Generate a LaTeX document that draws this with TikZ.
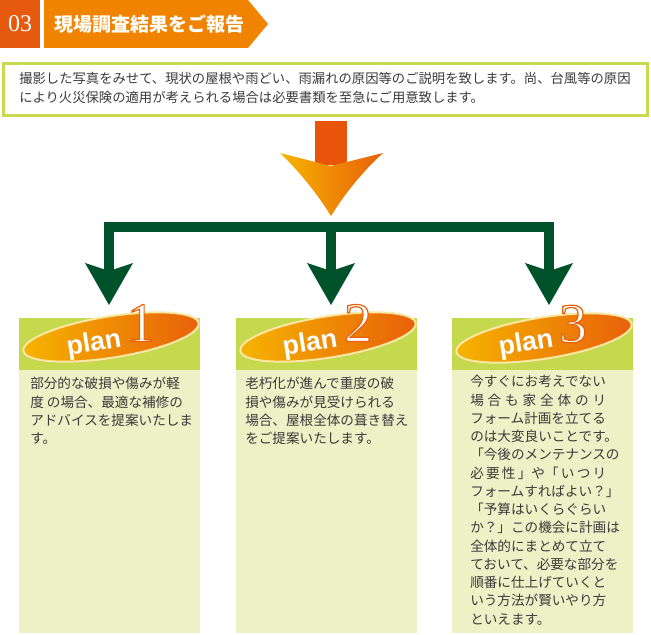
\documentclass[tikz,border=0pt]{standalone}
\usepackage{fontspec}
\setmainfont{Noto Sans CJK JP}
\newfontfamily\planfont{Liberation Sans}
\newfontfamily\numfont{Liberation Serif}
\usetikzlibrary{arrows.meta,shapes.geometric}

\definecolor{hdrdark}{HTML}{E65A10}
\definecolor{hdrorange}{HTML}{F08300}
\definecolor{framegreen}{HTML}{C8DA4E}
\definecolor{headgreen}{HTML}{C4D94E}
\definecolor{bodygreen}{HTML}{EDF1C6}
\definecolor{forkgreen}{HTML}{00522B}
\definecolor{shaftred}{HTML}{E8550A}
\definecolor{tipyellow}{HTML}{F6B400}
\definecolor{tiporange}{HTML}{E8600A}
\definecolor{rimcream}{HTML}{FCE6A4}
\definecolor{txtgray}{HTML}{3A3A3A}

\newcommand{\spreadline}[1]{\hbox to 10em{#1}}
% white digit with a thin orange edge (fill + stroke text mode)
\newcommand{\edgedigit}[1]{\special{pdf:literal direct 0.91 0.376 0.039 RG 0.9 w 2 Tr}#1\special{pdf:literal direct 0 Tr}}

\begin{document}
\begin{tikzpicture}[x=0.75pt, y=-0.75pt,
    colhead/.style={fill=headgreen, minimum width=135.75pt, minimum height=39pt, anchor=north west, inner sep=0},
    colbody/.style={fill=bodygreen, minimum width=135.75pt, minimum height=197.25pt, anchor=north west, inner sep=0},
    planoval/.style={ellipse, draw=rimcream, line width=1.5pt, left color=tipyellow, right color=tiporange, minimum width=133pt, minimum height=31pt, rotate=9, inner sep=0},
    planword/.style={text=white, font=\planfont\bfseries\fontsize{20}{20}\selectfont, rotate=9, inner sep=0},
    plannum/.style={text=white, font=\numfont\fontsize{42}{42}\selectfont, inner sep=0},
    plantext/.style={text=txtgray, font=\fontsize{10.2}{13.7}\selectfont, align=left, anchor=north west, inner sep=0},
    branch/.style={draw=forkgreen, line width=7.5pt, -{Stealth[length=31.5pt, width=36pt, inset=6pt, line width=0pt]}}
]
\useasboundingbox (0,0) rectangle (651,635);

% header
\node[fill=hdrdark, minimum width=30pt, minimum height=36pt, inner sep=0, text=white, font=\numfont\fontsize{18}{18}\selectfont] (secnum) at (20,24) {03};
\fill[hdrorange] (44,0) -- (248,0) -- (268,24) -- (248,48) -- (44,48) -- cycle;
\node[text=white, font=\bfseries\fontsize{14.25}{14.25}\selectfont, inner sep=0] (title) at (150,24) {現場調査結果をご報告};

% intro
\node[draw=framegreen, line width=2.25pt, minimum width=483pt, minimum height=39pt, inner sep=0] (intro) at (325,90) {};
\node[text=txtgray, font=\fontsize{10}{14.25}\selectfont, align=left, anchor=west, inner sep=0] (introtext) at (19,88) {撮影した写真をみせて、現状の屋根や雨どい、雨漏れの原因等のご説明を致します。尚、台風等の原因\\により火災保険の適用が考えられる場合は必要書類を至急にご用意致します。};

% big arrow
\node[fill=shaftred, minimum width=24pt, minimum height=33pt, inner sep=0] (shaft) at (331,143) {};
\shade[left color=tipyellow, right color=tiporange] (280,153) .. controls (300,172) and (318,195) .. (331,216) .. controls (344,195) and (362,172) .. (383,153) -- (331,166) -- cycle;

% fork
\coordinate (fork) at (331,227);
\coordinate (tip1) at (109,305);
\coordinate (tip2) at (331,305);
\coordinate (tip3) at (549,305);
\draw[branch] (fork) -| (tip1);
\draw[branch] (fork) -| (tip3);
\draw[branch] (fork) -- (tip2);

% columns
\node[colhead] (head1) at (19,318) {};
\node[colbody] (body1) at (19,370) {};
\node[colhead] (head2) at (236,318) {};
\node[colbody] (body2) at (236,370) {};
\node[colhead] (head3) at (452,318) {};
\node[colbody] (body3) at (452,370) {};

\node[planoval] (oval1) at (111,337) {};
\node[planoval] (oval2) at (328,337) {};
\node[planoval] (oval3) at (544,338) {};
\node[planword] (plan1) at (94,344) {plan};
\node[planword] (plan2) at (310,344) {plan};
\node[planword] (plan3) at (526,344) {plan};
\node[plannum] (num1) at (141,323) {\edgedigit{1}};
\node[plannum] (num2) at (358,323) {\edgedigit{2}};
\node[plannum] (num3) at (573,324) {\edgedigit{3}};

\node[plantext] (text1) at (30,377) {部分的な破損や傷みが軽\\度 の場合、最適な補修の\\アドバイスを提案いたしま\\す。};
\node[plantext] (text2) at (245,377) {老朽化が進んで重度の破\\損や傷みが見受けられる\\場合、屋根全体の葺き替え\\をご提案いたします。};
\node[plantext] (text3) at (470,375) {今すぐにお考えでない\\
\spreadline{場\hfill 合\hfill も\hfill 家\hfill 全\hfill 体\hfill の\hfill リ}\\
フォーム計画を立てる\\のは大変良いことです。\\「今後のメンテナンスの\\
\spreadline{必\hfill 要\hfill 性\hfill 」や「\hfill い\hfill つ\hfill リ}\\
フォームすればよい？」\\「予算はいくらぐらい\\か？」この機会に計画は\\全体的にまとめて立て\\ておいて、必要な部分を\\順番に仕上げていくと\\いう方法が賢いやり方\\といえます。};
\end{tikzpicture}
\end{document}
